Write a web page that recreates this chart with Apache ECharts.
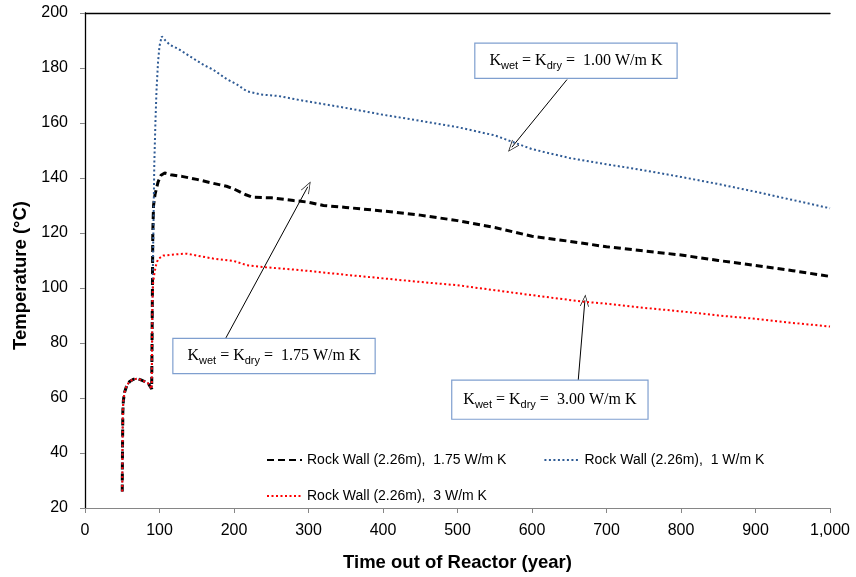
<!DOCTYPE html>
<html>
<head>
<meta charset="utf-8">
<script src="https://cdn.jsdelivr.net/npm/echarts@6/dist/echarts.min.js"></script>
<style>html,body{margin:0;padding:0;background:#fff;}#c{width:856px;height:577px;}</style>
</head>
<body>
<div id="c"></div>
<script>
// ---- Data ----
var xTicks = [0, 100, 200, 300, 400, 500, 600, 700, 800, 900, 1000];
var yTicks = [20, 40, 60, 80, 100, 120, 140, 160, 180, 200];

// shared early part (all three curves coincide)
var earlyYears = [50, 50.3, 50.8, 51.5, 53, 56, 60, 65, 70, 75, 80, 85, 89.5];
var earlyTemps = [26, 40, 55, 59, 62, 64.5, 66, 66.8, 67, 66.6, 66, 65.3, 63.3];

var k175Years = [90, 90.5, 91, 92, 94, 98, 102, 107, 115, 130, 150, 170, 190, 200, 215, 225, 250, 280, 300, 320, 350, 400, 450, 500, 550, 600, 650, 700, 750, 800, 850, 900, 950, 1000];
var k175Temps = [80, 100, 120, 130, 134, 138.5, 141, 141.8, 141.2, 140.6, 139.5, 138.2, 137, 136, 134, 133, 132.8, 131.8, 131.2, 130, 129.3, 128, 126.5, 124.5, 122, 118.8, 117, 115, 113.5, 112, 110, 108.2, 106.3, 104.2];

var k100Years = [90, 90.5, 91, 92, 93, 94.5, 96, 98, 100, 103, 108, 114, 125, 141, 160, 172, 190, 204, 217, 235, 260, 289, 350, 400, 450, 500, 550, 575, 600, 650, 700, 750, 800, 850, 900, 950, 1000];
var k100Temps = [75, 90, 105, 125, 145, 160, 172, 182, 188, 191.5, 190, 188.4, 187, 184.2, 181, 179.4, 176, 174, 171.6, 170.4, 169.8, 168.3, 165.5, 163, 160.8, 158.5, 155.5, 153, 150.5, 147.3, 145, 142.8, 140.4, 137.8, 135, 132, 129];

var k300Years = [90, 90.5, 91.5, 93, 95, 98, 105, 120, 136, 150, 172, 200, 217, 244, 289, 350, 400, 450, 500, 550, 600, 669, 700, 750, 800, 850, 900, 950, 1000];
var k300Temps = [80, 95, 102, 105, 108, 110.5, 111.8, 112.2, 112.5, 111.8, 110.7, 109.8, 108.3, 107.5, 106.5, 104.8, 103.5, 102.2, 101, 99.2, 97.4, 95, 94.3, 92.8, 91.5, 90, 88.8, 87.3, 86];

var seriesNames = ['Rock Wall (2.26m),  1.75 W/m K', 'Rock Wall (2.26m),  1 W/m K', 'Rock Wall (2.26m),  3 W/m K'];
var kLabels = ['1.75', '1.00', '3.00'];
// annotation anchors: box centre and arrow [from, to] in data units
var boxCentres = [[253.7, 75.3], [659, 182.65], [624, 59.4]];
var arrowFrom = [[189, 81.8], [647, 175.8], [662, 66.3]];
var arrowTo = [[299, 136.8], [573, 151.2], [671, 95.5]];

function pairs(ts, vs) { var out = []; for (var i = 0; i < ts.length; i++) out.push([ts[i], vs[i]]); return out; }
function fullSeries(ts, vs) { return pairs(earlyYears.concat(ts), earlyTemps.concat(vs)); }

var richText = {
  k: { fontFamily: 'Liberation Serif', fontSize: 16, color: '#000', lineHeight: 22 },
  s: { fontFamily: 'Liberation Sans', fontSize: 11, color: '#000', lineHeight: 15, verticalAlign: 'bottom' }
};
var openArrow = 'path://M0,12 L5,0 L10,12 L9.2,12 L5,1.8 L0.8,12 Z';
function annot(i, padH, padV) {
  return {
    markPoint: {
      silent: true,
      symbol: 'rect',
      symbolSize: 1,
      itemStyle: { color: 'rgba(0,0,0,0)' },
      label: {
        show: true, position: 'inside',
        formatter: '{k|K}{s|wet}{k| = K}{s|dry}{k| =  ' + kLabels[i] + ' W/m K}',
        rich: richText,
        backgroundColor: '#fff', borderColor: '#7f9fcf', borderWidth: 1.2,
        padding: [padV, padH, padV, padH]
      },
      data: [{ coord: boxCentres[i] }]
    },
    markLine: {
      silent: true,
      symbol: ['none', openArrow],
      symbolSize: [9, 12],
      itemStyle: { color: '#000' },
      lineStyle: { color: '#000', width: 1, type: 'solid' },
      label: { show: false },
      data: [[{ coord: arrowFrom[i] }, { coord: arrowTo[i] }]]
    }
  };
}

var chart = echarts.init(document.getElementById('c'), null, { renderer: 'canvas' });
var axisFont = { fontFamily: 'Liberation Sans', fontSize: 16, color: '#000' };
var legendText = { fontFamily: 'Liberation Sans', fontSize: 14, color: '#000' };

var s1 = Object.assign({
  name: seriesNames[0], type: 'line', data: fullSeries(k175Years, k175Temps), showSymbol: false, symbol: 'none',
  lineStyle: { color: '#000', width: 3, type: [7, 4] }, itemStyle: { color: '#000' }, z: 3
}, annot(0, 14, 6));
var s2 = Object.assign({
  name: seriesNames[1], type: 'line', data: fullSeries(k100Years, k100Temps), showSymbol: false, symbol: 'none',
  lineStyle: { color: '#2f5b95', width: 2, type: [2, 2.5] }, itemStyle: { color: '#2f5b95' }, z: 4
}, annot(1, 14, 6));
var s3 = Object.assign({
  name: seriesNames[2], type: 'line', data: fullSeries(k300Years, k300Temps), showSymbol: false, symbol: 'none',
  lineStyle: { color: '#ff0000', width: 2, type: [2, 2.5] }, itemStyle: { color: '#ff0000' }, z: 5
}, annot(2, 11, 8));

chart.setOption({
  animation: false,
  backgroundColor: '#fff',
  grid: { left: 85, right: 26, top: 13, bottom: 66, containLabel: false },
  legend: [
    { data: [seriesNames[0], seriesNames[1]], left: 261, top: 448, itemWidth: 35, itemHeight: 14, itemGap: 37,
      itemStyle: { opacity: 0 }, textStyle: legendText },
    { data: [seriesNames[2]], left: 261, top: 484, itemWidth: 35, itemHeight: 14,
      itemStyle: { opacity: 0 }, textStyle: legendText }
  ],
  xAxis: [
    { type: 'value', min: 0, max: 1000, interval: 100, position: 'bottom',
      name: 'Time out of Reactor (year)', nameLocation: 'middle', nameGap: 45,
      nameTextStyle: { fontFamily: 'Liberation Sans', fontSize: 18.5, fontWeight: 'bold', color: '#000' },
      axisLine: { lineStyle: { color: '#868686', width: 1 } },
      axisTick: { show: true, inside: false, length: 5, lineStyle: { color: '#868686' } },
      axisLabel: Object.assign({ margin: 15, formatter: function (v) { return v >= 1000 ? '1,000' : String(v); } }, axisFont),
      splitLine: { show: false } },
    { type: 'value', min: 0, max: 1000, position: 'top', axisLine: { show: true, lineStyle: { color: '#000', width: 1.3 } },
      axisTick: { show: false }, axisLabel: { show: false }, splitLine: { show: false } }
  ],
  yAxis: [
    { type: 'value', min: 20, max: 200, interval: 20, position: 'left',
      name: 'Temperature (°C)', nameLocation: 'middle', nameGap: 50, nameRotate: 90,
      nameTextStyle: { fontFamily: 'Liberation Sans', fontSize: 18.5, fontWeight: 'bold', color: '#000', padding: [0, 30, 0, 0] },
      axisLine: { show: true, lineStyle: { color: '#868686', width: 1 } },
      axisTick: { show: true, inside: false, length: 5, lineStyle: { color: '#868686' } },
      axisLabel: Object.assign({ margin: 17 }, axisFont),
      splitLine: { show: false } },
    { type: 'value', min: 20, max: 200, position: 'right', axisLine: { show: true, lineStyle: { color: '#000', width: 1.3 } },
      axisTick: { show: false }, axisLabel: { show: false }, splitLine: { show: false } }
  ],
  series: [s1, s2, s3]
});
</script>
</body>
</html>
